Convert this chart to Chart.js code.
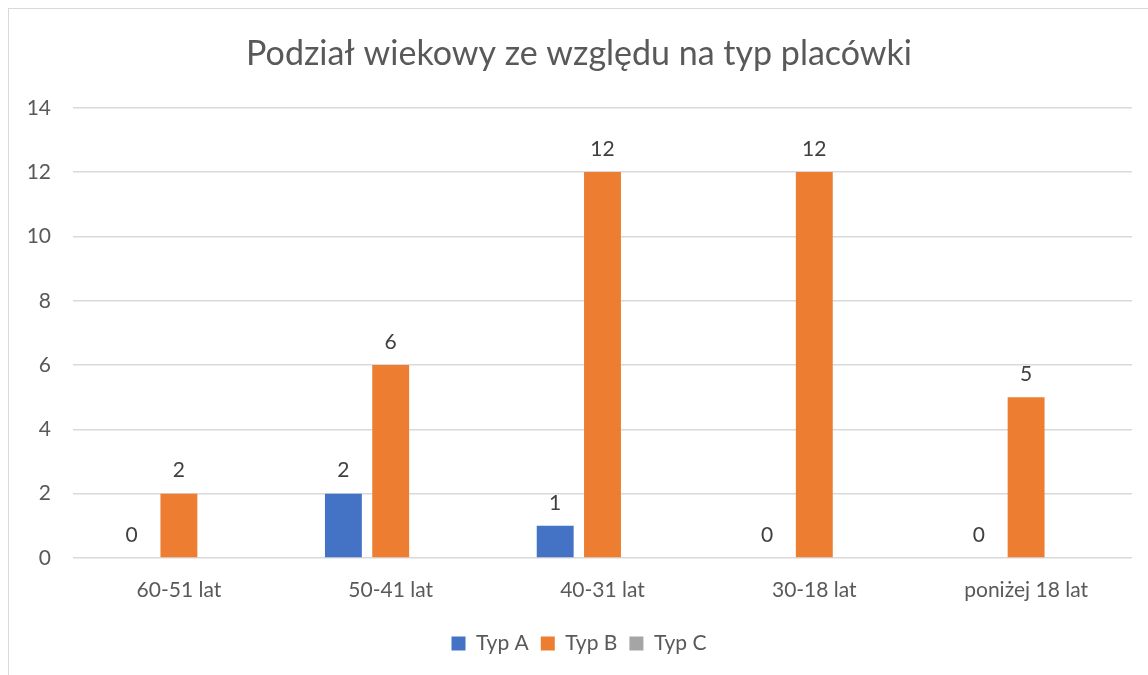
<!DOCTYPE html>
<html>
<head>
<meta charset="utf-8">
<script src="https://cdn.jsdelivr.net/npm/chart.js@4"></script>
<style>
  html, body { margin: 0; padding: 0; background: #fff; overflow: hidden; }
  #frame {
    position: absolute; left: 8px; top: 8px;
    width: 1200px; height: 720px;
    border: 1px solid #d9d9d9; box-sizing: border-box;
  }
  #wrap { position: absolute; left: 0; top: 0; width: 1148px; height: 675px; }
</style>
</head>
<body>
<div id="frame"></div>
<div id="wrap"><canvas id="myChart"></canvas></div>
<script>
"use strict";
const categories = ["60-51 lat", "50-41 lat", "40-31 lat", "30-18 lat", "poniżej 18 lat"];
const typA = [0, 2, 1, 0, 0];
const typB = [2, 6, 12, 12, 5];
const typC = [null, null, null, null, null];
const seriesNames = ["Typ A", "Typ B", "Typ C"];

const FONT = "Lato, 'Open Sans', sans-serif";

// draws the value above each bar (no datalabels plugin available offline)
const barValues = {
  id: "barValues",
  afterDatasetsDraw(chart) {
    const ctx = chart.ctx;
    ctx.save();
    ctx.font = "21px " + FONT;
    ctx.fillStyle = "#404040";
    ctx.textAlign = "center";
    ctx.textBaseline = "middle";
    chart.data.datasets.forEach((ds, i) => {
      const meta = chart.getDatasetMeta(i);
      meta.data.forEach((bar, j) => {
        const v = ds.data[j];
        if (v === null || v === undefined) return;
        ctx.fillText(String(v), bar.x, bar.y - 23);
      });
    });
    ctx.restore();
  },
};

const ctx = document.getElementById("myChart");

new Chart(ctx, {
  type: "bar",
  data: {
    labels: categories,
    datasets: [
      { label: seriesNames[0], data: typA, backgroundColor: "#4472c4" },
      { label: seriesNames[1], data: typB, backgroundColor: "#ed7d31" },
      { label: seriesNames[2], data: typC, backgroundColor: "#a5a5a5" },
    ].map((d) => ({ ...d, categoryPercentage: 0.67, barPercentage: 0.78, borderWidth: 0 })),
  },
  plugins: [barValues],
  options: {
    responsive: true,
    maintainAspectRatio: false,
    animation: false,
    layout: { padding: { left: 26, right: 16, top: 0, bottom: 11 } },
    plugins: {
      title: {
        display: true,
        text: "Podział wiekowy ze względu na typ placówki",
        color: "#595959",
        font: { family: FONT, size: 34, weight: "normal" },
        padding: { top: 34, bottom: 33 },
      },
      legend: {
        position: "bottom",
        labels: {
          color: "#595959",
          font: { family: FONT, size: 21 },
          boxWidth: 14,
          boxHeight: 14,
          padding: 12,
        },
      },
      tooltip: { enabled: false },
    },
    scales: {
      x: {
        grid: { display: false, drawTicks: false },
        border: { display: false },
        ticks: { color: "#595959", font: { family: FONT, size: 21 }, padding: 20 },
        afterFit: (scale) => { scale.height = 63; },
      },
      y: {
        min: 0,
        max: 14,
        ticks: { stepSize: 2, color: "#595959", font: { family: FONT, size: 21 }, padding: 22 },
        grid: { color: "#d9d9d9", lineWidth: 1.5, drawTicks: false },
        border: { display: false },
        afterFit: (scale) => { scale.width = 47; },
      },
    },
  },
});
</script>
</body>
</html>
